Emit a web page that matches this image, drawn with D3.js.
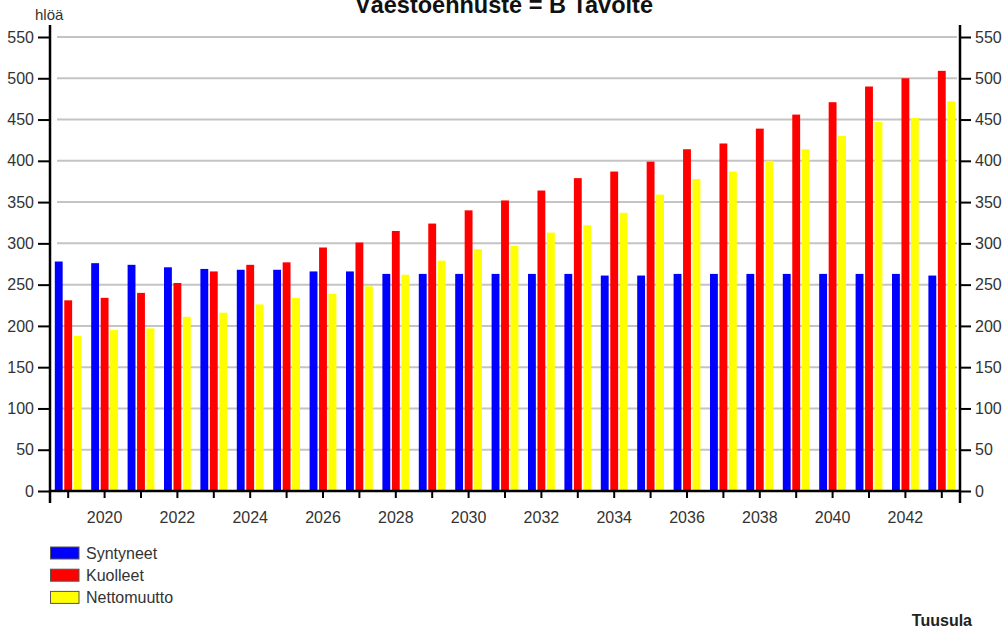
<!DOCTYPE html>
<html>
<head>
<meta charset="utf-8">
<script src="https://cdn.jsdelivr.net/npm/d3@7"></script>
<style>
  html, body { margin: 0; padding: 0; background: #fff; }
  svg { display: block; font-family: "Liberation Sans", Arial, sans-serif; }
</style>
</head>
<body>
<svg id="chart" width="1006" height="629"></svg>
<script>
const years = [2019,2020,2021,2022,2023,2024,2025,2026,2027,2028,2029,2030,2031,2032,2033,2034,2035,2036,2037,2038,2039,2040,2041,2042,2043];
const syntyneet = [278,276,274,271,269,268,268,266,266,263,263,263,263,263,263,261,261,263,263,263,263,263,263,263,261];
const kuolleet = [231,234,240,252,266,274,277,295,301,315,324,340,352,364,379,387,399,414,421,439,456,471,490,500,509];
const nettomuutto = [188,195,197,211,216,226,234,239,248,262,279,293,297,313,322,337,359,378,387,400,414,430,447,452,472];
const seriesNames = ["Syntyneet","Kuolleet","Nettomuutto"];
const seriesColors = ["#0000ff","#ff0000","#ffff00"];
const yTicks = [0,50,100,150,200,250,300,350,400,450,500,550];
const title = "Väestöennuste = B Tavoite";
const yUnit = "hlöä";
const region = "Tuusula";

const seriesValues = [syntyneet, kuolleet, nettomuutto];
const svg = d3.select("#chart");
const L = 50, R = 960, Y0 = 491, YT = 37;

const x = d3.scaleBand().domain(years).range([L, R]).padding(0);
const bw = x.bandwidth();
const x1 = d3.scaleBand().domain(seriesNames).range([bw/2 - 13.4, bw/2 + 13.4]).paddingInner(0.17).paddingOuter(0);
const y = d3.scaleLinear().domain([0, 550]).range([Y0, YT]);

// gridlines
svg.append("g").selectAll("line").data(yTicks.filter(d => d > 0)).join("line")
  .attr("x1", 57).attr("x2", 957)
  .attr("y1", d => y(d)).attr("y2", d => y(d))
  .attr("stroke", "#c4c4c4").attr("stroke-width", 2);

// bars
const groups = svg.append("g").selectAll("g").data(years).join("g")
  .attr("transform", d => `translate(${x(d)},0)`);
groups.selectAll("rect").data((d, i) => seriesNames.map((s, k) => ({s, k, v: seriesValues[k][i]})))
  .join("rect")
  .attr("x", d => x1(d.s)).attr("width", x1.bandwidth())
  .attr("y", d => y(d.v)).attr("height", d => Y0 - y(d.v))
  .attr("fill", d => seriesColors[d.k]);

// axes
const textColor = "#333";
const yl = svg.append("g").attr("transform", `translate(${L},0)`)
  .call(d3.axisLeft(y).tickValues(yTicks).tickSize(12).tickPadding(4).tickSizeOuter(0));
const yr = svg.append("g").attr("transform", `translate(${R},0)`)
  .call(d3.axisRight(y).tickValues(yTicks).tickSize(11).tickPadding(4).tickSizeOuter(0));
const xb = svg.append("g").attr("transform", `translate(0,${Y0})`)
  .call(d3.axisBottom(x).tickSize(7).tickPadding(14).tickSizeOuter(0)
    .tickFormat(d => d % 2 === 0 ? d : ""));
[yl, yr, xb].forEach(g => {
  g.select(".domain").remove();
  g.selectAll(".tick line").attr("stroke", "#000").attr("stroke-width", 2);
  g.selectAll(".tick text").attr("fill", textColor).style("font-size", "16px")
    .style("font-family", '"Liberation Sans", Arial, sans-serif');
});
// axis lines
svg.append("line").attr("x1", L).attr("x2", L).attr("y1", 25).attr("y2", 503).attr("stroke", "#000").attr("stroke-width", 2.5);
svg.append("line").attr("x1", R).attr("x2", R).attr("y1", 25).attr("y2", 503).attr("stroke", "#000").attr("stroke-width", 2.5);
svg.append("line").attr("x1", L).attr("x2", R).attr("y1", Y0).attr("y2", Y0).attr("stroke", "#000").attr("stroke-width", 2.5);

// title
svg.append("text").attr("x", 504).attr("y", 12.5).attr("text-anchor", "middle")
  .style("font-size", "23.5px").style("font-weight", "bold").attr("fill", "#111").text(title);
svg.append("text").attr("x", 35).attr("y", 20).style("font-size", "15px").attr("fill", textColor).text(yUnit);
svg.append("text").attr("x", 972).attr("y", 626).attr("text-anchor", "end")
  .style("font-size", "16px").style("font-weight", "bold").attr("fill", "#222").text(region);

// legend
const lg = svg.append("g").selectAll("g").data(seriesNames).join("g")
  .attr("transform", (d, i) => `translate(50,${547 + i * 22.2})`);
lg.append("rect").attr("x", 0.5).attr("y", 0).attr("width", 28.5).attr("height", 12)
  .attr("fill", (d, i) => seriesColors[i]).attr("stroke", "#555").attr("stroke-width", 1);
lg.append("text").attr("x", 36).attr("y", 11.5).style("font-size", "16px").attr("fill", textColor).text(d => d);
</script>
</body>
</html>
